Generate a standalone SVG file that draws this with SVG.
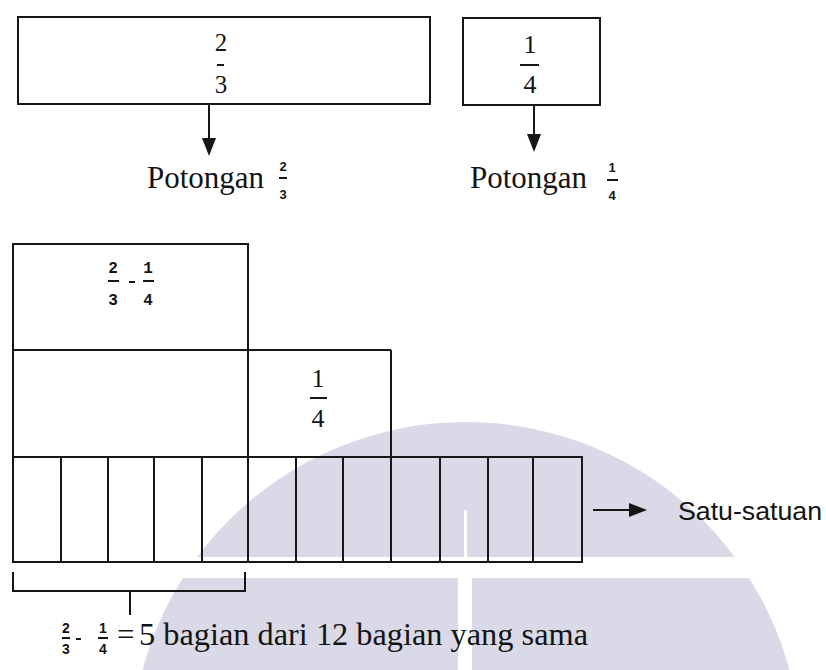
<svg xmlns="http://www.w3.org/2000/svg" width="826" height="670" viewBox="0 0 826 670">
  <style>
    .ln { stroke: #161616; stroke-width: 2; fill: none; }
    .box { stroke: #161616; stroke-width: 2; fill: none; }
    .head { fill: #161616; stroke: none; }
    .serif { font-family: "Liberation Serif", "Times New Roman", serif; fill: #141414; }
    .sans { font-family: "Liberation Sans", Arial, sans-serif; fill: #141414; }
    .mono { font-family: "Liberation Mono", "Courier New", monospace; font-weight: bold; fill: #141414; }
    .wm { fill: #d9d9e8; }
  </style>

  <rect x="0" y="0" width="826" height="670" fill="#ffffff"/>

  <!-- background emblem -->
  <g id="emblem">
    <circle class="wm" cx="466" cy="757" r="335"/>
    <rect x="0" y="557" width="826" height="21" fill="#ffffff"/>
    <rect x="464" y="510" width="3" height="47" fill="#ffffff"/>
    <rect x="458" y="578" width="14" height="92" fill="#ffffff"/>
  </g>

  <!-- whole piece two-thirds -->
  <g id="box-two-thirds">
    <rect class="box" x="18" y="17" width="412" height="87"/>
    <text class="serif" x="221" y="51" font-size="25" text-anchor="middle">2</text>
    <line class="ln" x1="217" y1="65" x2="224" y2="65" stroke-width="1.5"/>
    <text class="serif" x="221" y="93" font-size="25" text-anchor="middle">3</text>
  </g>

  <!-- piece one-quarter -->
  <g id="box-one-quarter">
    <rect class="box" x="463" y="18" width="137" height="87"/>
    <text class="serif" x="530" y="53" font-size="26" text-anchor="middle">1</text>
    <line class="ln" x1="520" y1="65" x2="539" y2="65"/>
    <text class="serif" x="530" y="93" font-size="26" text-anchor="middle">4</text>
  </g>

  <g id="label-two-thirds">
    <text class="serif" x="147" y="188" font-size="31">Potongan</text>
    <text class="sans" x="283" y="171" font-size="13" font-weight="bold" text-anchor="middle">2</text>
    <line class="ln" x1="279" y1="178" x2="287" y2="178" stroke-width="1.2"/>
    <text class="sans" x="283" y="199" font-size="13" font-weight="bold" text-anchor="middle">3</text>
  </g>

  <g id="label-one-quarter">
    <text class="serif" x="470" y="188" font-size="31">Potongan</text>
    <text class="sans" x="612" y="172" font-size="13" font-weight="bold" text-anchor="middle">1</text>
    <line class="ln" x1="607" y1="180" x2="618" y2="180" stroke-width="1.2"/>
    <text class="sans" x="612" y="200" font-size="13" font-weight="bold" text-anchor="middle">4</text>
  </g>

  <!-- difference block above the strip -->
  <g id="block-difference">
    <rect class="box" x="13" y="244" width="235" height="106"/>
    <text class="mono" x="113" y="273" font-size="16" text-anchor="middle">2</text>
    <line class="ln" x1="108" y1="281" x2="119" y2="281"/>
    <text class="mono" x="113" y="305" font-size="16" text-anchor="middle">3</text>
    <line class="ln" x1="129" y1="282" x2="135" y2="282"/>
    <text class="mono" x="148" y="273" font-size="16" text-anchor="middle">1</text>
    <line class="ln" x1="143" y1="281" x2="154" y2="281"/>
    <text class="mono" x="148" y="305" font-size="16" text-anchor="middle">4</text>
  </g>

  <!-- two-thirds column and quarter block -->
  <g id="block-lower">
    <line class="ln" x1="13" y1="350" x2="13" y2="457"/>
    <line class="ln" x1="248" y1="350" x2="248" y2="457"/>
    <line class="ln" x1="13" y1="350" x2="391" y2="350"/>
    <line class="ln" x1="391" y1="350" x2="391" y2="457"/>
  </g>
  <g id="block-quarter">
    <text class="serif" x="318" y="387" font-size="26" text-anchor="middle">1</text>
    <line class="ln" x1="310" y1="398" x2="327" y2="398"/>
    <text class="serif" x="318" y="427" font-size="26" text-anchor="middle">4</text>
  </g>

  <!-- unit strip of twelve parts -->
  <g id="unit-strip">
    <rect class="box" x="13" y="457" width="569" height="105"/>
    <path class="ln" d="M61,457V562 M108,457V562 M154,457V562 M202,457V562 M248,457V562 M296,457V562 M343,457V562 M391,457V562 M440,457V562 M488,457V562 M533,457V562"/>
  </g>

  <g id="label-unit">
    <text class="sans" x="678" y="520" font-size="25" textLength="144" lengthAdjust="spacingAndGlyphs">Satu-satuan</text>
  </g>

  <!-- brace under the first five parts -->
  <g id="brace">
    <path class="ln" d="M13,572V591H245V572 M130,591V615"/>
  </g>

  <g id="label-result">
    <text class="sans" x="66" y="633" font-size="14" font-weight="bold" text-anchor="middle">2</text>
    <line class="ln" x1="62" y1="638" x2="70" y2="638" stroke-width="1.5"/>
    <text class="sans" x="66" y="654" font-size="14" font-weight="bold" text-anchor="middle">3</text>
    <line class="ln" x1="76" y1="639" x2="81" y2="639" stroke-width="1.5"/>
    <text class="sans" x="103" y="633" font-size="14" font-weight="bold" text-anchor="middle">1</text>
    <line class="ln" x1="98" y1="638" x2="108" y2="638" stroke-width="1.5"/>
    <text class="sans" x="103" y="654" font-size="14" font-weight="bold" text-anchor="middle">4</text>
    <text class="serif" x="117" y="645" font-size="31">=</text>
    <text class="serif" x="139" y="645" font-size="31" textLength="449" lengthAdjust="spacingAndGlyphs">5 bagian dari 12 bagian yang sama</text>
  </g>

  <!-- connectors -->
  <g id="connectors">
    <line class="ln" x1="209" y1="104" x2="209" y2="140"/>
    <polygon class="head" points="202,138 216,138 209,156"/>
    <line class="ln" x1="534" y1="105" x2="534" y2="136"/>
    <polygon class="head" points="527,134 541,134 534,152"/>
    <line class="ln" x1="593" y1="510" x2="631" y2="510"/>
    <polygon class="head" points="629,503 629,517 647,510"/>
  </g>
</svg>
